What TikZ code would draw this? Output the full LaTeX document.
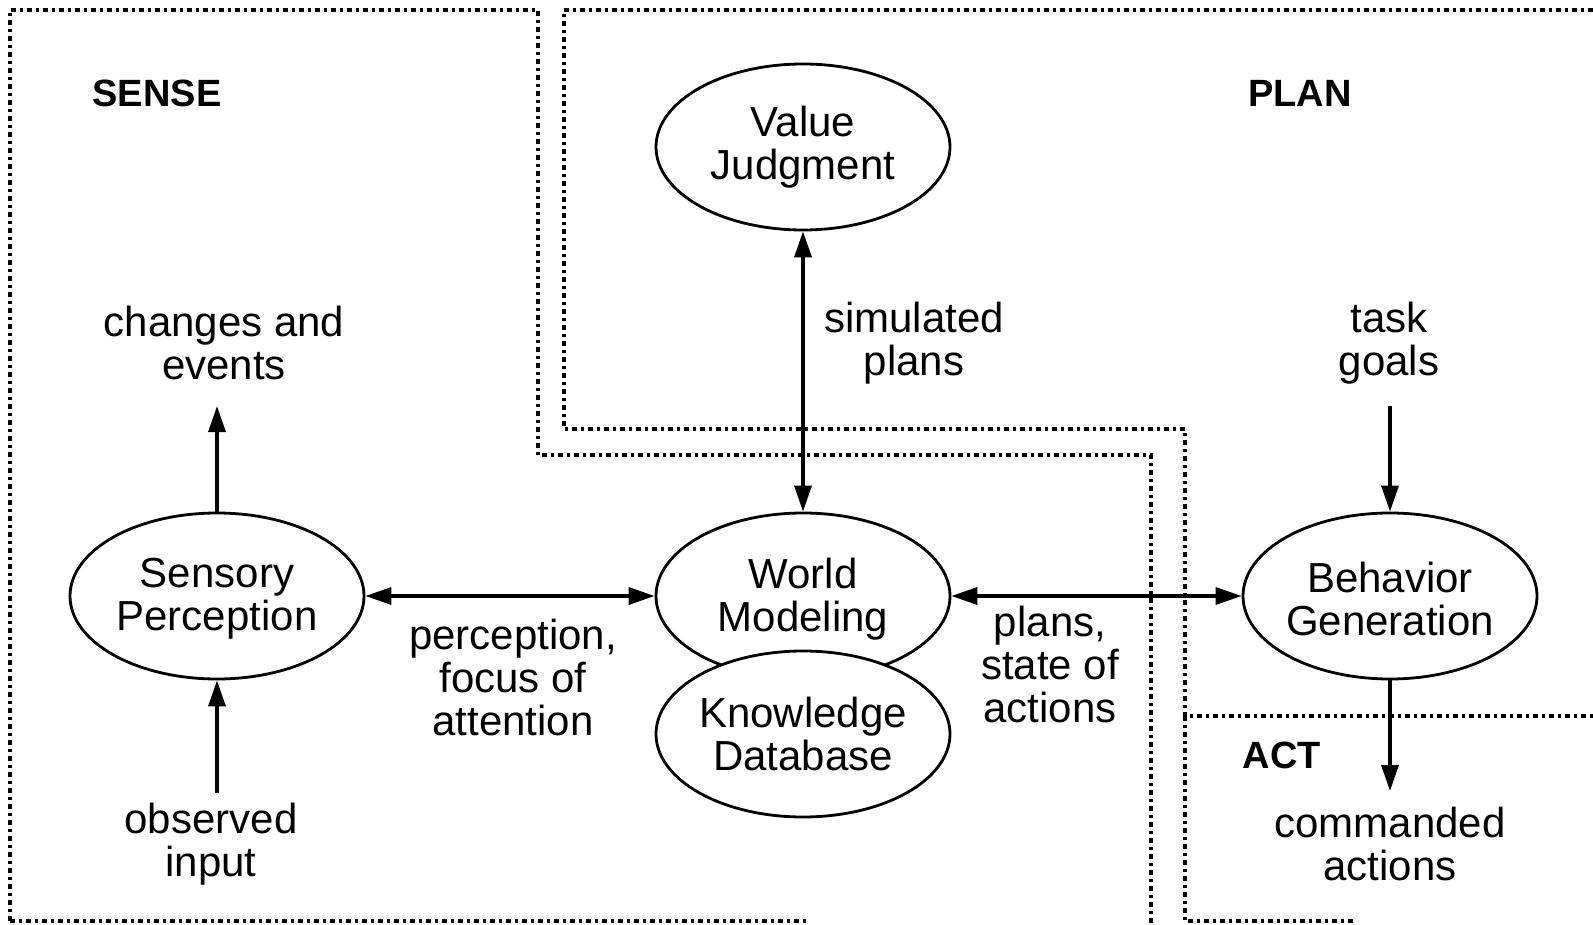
\documentclass[tikz,border=0pt]{standalone}
\usepackage{fontspec}
\setmainfont{Liberation Sans}
\usetikzlibrary{arrows.meta,shapes.geometric}

\begin{document}
\begin{tikzpicture}[x=1pt,y=-1pt,
  unit/.style={draw, ellipse, line width=2.8pt, minimum width=294pt,
    minimum height=166pt, inner sep=0pt, fill=white},
  lbl/.style={align=center, inner sep=0pt,
    font=\fontsize{42}{43}\selectfont},
  region/.style={inner sep=0pt, font=\bfseries\fontsize{38}{40}\selectfont},
  tipshape/.tip={Triangle[length=26pt,width=17pt]},
  flow/.style={line width=3.4pt, -tipshape},
  twoway/.style={line width=3.4pt, tipshape-tipshape},
  zone/.style={line width=3.2pt, dash pattern=on 5pt off 4pt on 3pt off 4pt}]

\useasboundingbox (0,0) rectangle (1593,925);

% boundaries of the three functional regions
\draw[zone] (10,921) -- (10,10) -- (538,10) -- (538,455) -- (1151,455) -- (1151,925);
\draw[zone] (10,921) -- (808,921);
\draw[zone] (1593,10) -- (564,10) -- (564,429) -- (1185,429) -- (1185,716) -- (1593,716);
\draw[zone] (1185,716) -- (1185,921) -- (1355,921);

% region titles
\node[region] (tsense) at (157,93) {SENSE};
\node[region] (tplan) at (1300,93) {PLAN};
\node[region] (tact) at (1282,755) {ACT};

% processing units
\node[unit] (vj) at (803,147) {};
\node[unit] (sp) at (217,596) {};
\node[unit] (wm) at (803,596) {};
\node[unit] (kd) at (803,734) {};
\node[unit] (bg) at (1390,596) {};

\node[lbl] (vjt) at (vj.center) {Value\\Judgment};
\node[lbl] (spt) at ([yshift=-3pt]sp.center) {Sensory\\Perception};
\node[lbl] (wmt) at ([yshift=-3pt]wm.center) {World\\Modeling};
\node[lbl] (kdt) at (kd.center) {Knowledge\\Database};
\node[lbl] (bgt) at ([yshift=-3pt]bg.center) {Behavior\\Generation};

% free ends of the external flows
\coordinate (evtip) at (217,406);
\coordinate (obsfoot) at (217,793);
\coordinate (goalfoot) at (1390,406);
\coordinate (cmdtip) at (1390,791);

% flows
\draw[flow] (sp.north) -- (evtip);
\draw[flow] (obsfoot) -- (sp.south);
\draw[flow] (goalfoot) -- (bg.north);
\draw[flow] (bg.south) -- (cmdtip);
\draw[twoway] (sp.east) -- (wm.west);
\draw[twoway] (vj.south) -- (wm.north);
\draw[twoway] (wm.east) -- (bg.west);

% flow labels
\node[lbl] (events) at (224,343) {changes and\\events};
\node[lbl] (simplans) at (914,343) {simulated\\plans};
\node[lbl] (goals) at (1389,343) {task\\goals};
\node[lbl] (percept) at (513,677) {perception,\\focus of\\attention};
\node[lbl] (states) at (1050,664) {plans,\\state of\\actions};
\node[lbl] (observed) at (211,844) {observed\\input};
\node[lbl] (commanded) at (1390,844) {commanded\\actions};
\end{tikzpicture}
\end{document}
